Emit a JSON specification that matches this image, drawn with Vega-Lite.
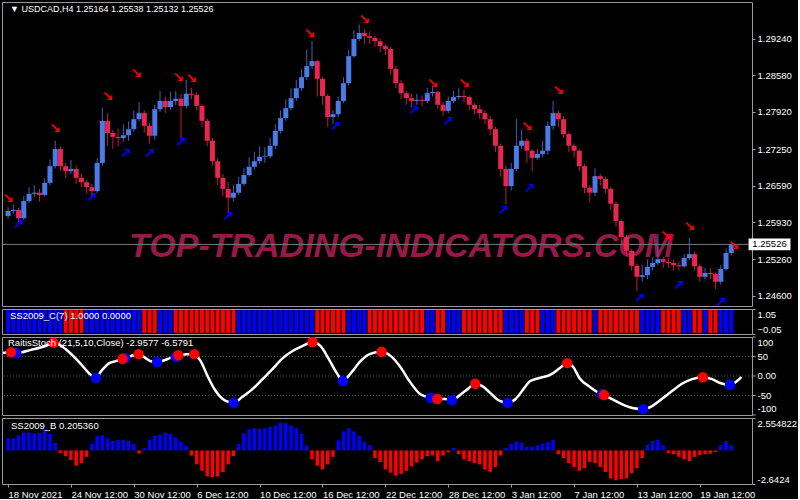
{
"$schema":"https://vega.github.io/schema/vega-lite/v6.json",
"background":"#000000",
"padding":{"left":1,"top":1,"right":0,"bottom":0},
"spacing":3,
"bounds":"flush",
"datasets":{
"bars":[
{"t":0,"o":1.2604,"h":1.262,"l":1.2599,"c":1.2613,"b":0.96,"s":1},
{"t":2,"o":1.2613,"h":1.2625,"l":1.2608,"c":1.2615,"b":0.96,"s":1},
{"t":4,"o":1.2615,"h":1.2619,"l":1.2593,"c":1.26,"b":1.2,"s":1},
{"t":6,"o":1.26,"h":1.264,"l":1.2597,"c":1.2631,"b":1.42,"s":1},
{"t":8,"o":1.2631,"h":1.2656,"l":1.2628,"c":1.2644,"b":1.42,"s":1},
{"t":10,"o":1.2644,"h":1.266,"l":1.2638,"c":1.2646,"b":1.34,"s":1},
{"t":12,"o":1.2646,"h":1.2653,"l":1.263,"c":1.2642,"b":1.38,"s":1},
{"t":14,"o":1.2642,"h":1.2672,"l":1.2639,"c":1.2664,"b":1.7,"s":1},
{"t":16,"o":1.2664,"h":1.2706,"l":1.266,"c":1.2694,"b":1.3,"s":1},
{"t":18,"o":1.2694,"h":1.274,"l":1.269,"c":1.2725,"b":0.6,"s":1},
{"t":20,"o":1.2725,"h":1.273,"l":1.2685,"c":1.2694,"b":-0.2,"s":1},
{"t":22,"o":1.2694,"h":1.27,"l":1.2672,"c":1.2685,"b":-0.46,"s":0},
{"t":24,"o":1.2685,"h":1.2705,"l":1.268,"c":1.2689,"b":-0.75,"s":0},
{"t":26,"o":1.2689,"h":1.2695,"l":1.2662,"c":1.2673,"b":-1.2,"s":0},
{"t":28,"o":1.2673,"h":1.268,"l":1.2656,"c":1.2665,"b":-1.0,"s":0},
{"t":30,"o":1.2665,"h":1.267,"l":1.2645,"c":1.2656,"b":-0.5,"s":1},
{"t":32,"o":1.2656,"h":1.2662,"l":1.264,"c":1.2649,"b":0.5,"s":1},
{"t":34,"o":1.2649,"h":1.2708,"l":1.2646,"c":1.27,"b":1.15,"s":1},
{"t":36,"o":1.27,"h":1.28,"l":1.2695,"c":1.2776,"b":1.2,"s":1},
{"t":38,"o":1.2776,"h":1.279,"l":1.273,"c":1.2754,"b":0.95,"s":1},
{"t":40,"o":1.2754,"h":1.276,"l":1.2725,"c":1.2747,"b":0.75,"s":1},
{"t":42,"o":1.2747,"h":1.2762,"l":1.273,"c":1.2745,"b":0.83,"s":1},
{"t":44,"o":1.2745,"h":1.277,"l":1.2738,"c":1.275,"b":0.85,"s":1},
{"t":46,"o":1.275,"h":1.2775,"l":1.274,"c":1.2761,"b":0.75,"s":1},
{"t":48,"o":1.2761,"h":1.2795,"l":1.2756,"c":1.2779,"b":0.5,"s":1},
{"t":50,"o":1.2779,"h":1.281,"l":1.2775,"c":1.279,"b":-0.25,"s":1},
{"t":52,"o":1.279,"h":1.2795,"l":1.2755,"c":1.2767,"b":0.2,"s":0},
{"t":54,"o":1.2767,"h":1.2772,"l":1.2735,"c":1.2749,"b":0.85,"s":0},
{"t":56,"o":1.2749,"h":1.2805,"l":1.2742,"c":1.2797,"b":1.15,"s":0},
{"t":58,"o":1.2797,"h":1.283,"l":1.2792,"c":1.2812,"b":1.25,"s":1},
{"t":60,"o":1.2812,"h":1.282,"l":1.279,"c":1.2801,"b":1.4,"s":1},
{"t":62,"o":1.2801,"h":1.2828,"l":1.2795,"c":1.2812,"b":1.3,"s":1},
{"t":64,"o":1.2812,"h":1.283,"l":1.2805,"c":1.2816,"b":1.0,"s":0},
{"t":66,"o":1.2816,"h":1.2825,"l":1.2745,"c":1.2803,"b":0.7,"s":0},
{"t":68,"o":1.2803,"h":1.285,"l":1.2798,"c":1.2825,"b":0.35,"s":0},
{"t":70,"o":1.2825,"h":1.2835,"l":1.2815,"c":1.2823,"b":-0.4,"s":0},
{"t":72,"o":1.2823,"h":1.2828,"l":1.2795,"c":1.2803,"b":-1.1,"s":0},
{"t":74,"o":1.2803,"h":1.2806,"l":1.2765,"c":1.2776,"b":-1.6,"s":0},
{"t":76,"o":1.2776,"h":1.278,"l":1.273,"c":1.274,"b":-2.05,"s":0},
{"t":78,"o":1.274,"h":1.2745,"l":1.2695,"c":1.2703,"b":-2.1,"s":0},
{"t":80,"o":1.2703,"h":1.2708,"l":1.266,"c":1.2673,"b":-2.05,"s":0},
{"t":82,"o":1.2673,"h":1.268,"l":1.264,"c":1.2653,"b":-1.7,"s":0},
{"t":84,"o":1.2653,"h":1.2665,"l":1.261,"c":1.2637,"b":-1.1,"s":0},
{"t":86,"o":1.2637,"h":1.266,"l":1.263,"c":1.2646,"b":-0.45,"s":0},
{"t":88,"o":1.2646,"h":1.2675,"l":1.2642,"c":1.2662,"b":0.5,"s":1},
{"t":90,"o":1.2662,"h":1.269,"l":1.2658,"c":1.2678,"b":1.35,"s":1},
{"t":92,"o":1.2678,"h":1.271,"l":1.2675,"c":1.2693,"b":1.65,"s":1},
{"t":94,"o":1.2693,"h":1.272,"l":1.2688,"c":1.2703,"b":1.75,"s":1},
{"t":96,"o":1.2703,"h":1.273,"l":1.2698,"c":1.2711,"b":1.7,"s":1},
{"t":98,"o":1.2711,"h":1.2728,"l":1.27,"c":1.2712,"b":1.75,"s":1},
{"t":100,"o":1.2712,"h":1.2745,"l":1.2708,"c":1.2731,"b":1.85,"s":1},
{"t":102,"o":1.2731,"h":1.277,"l":1.2725,"c":1.2758,"b":1.95,"s":1},
{"t":104,"o":1.2758,"h":1.2795,"l":1.2753,"c":1.2781,"b":2.2,"s":1},
{"t":106,"o":1.2781,"h":1.2815,"l":1.2776,"c":1.2799,"b":2.15,"s":1},
{"t":108,"o":1.2799,"h":1.2835,"l":1.2795,"c":1.2817,"b":1.95,"s":1},
{"t":110,"o":1.2817,"h":1.285,"l":1.2812,"c":1.2835,"b":1.75,"s":1},
{"t":112,"o":1.2835,"h":1.287,"l":1.283,"c":1.2855,"b":1.3,"s":1},
{"t":114,"o":1.2855,"h":1.2905,"l":1.285,"c":1.2875,"b":0.4,"s":1},
{"t":116,"o":1.2875,"h":1.292,"l":1.287,"c":1.2884,"b":-0.7,"s":1},
{"t":118,"o":1.2884,"h":1.2886,"l":1.282,"c":1.2852,"b":-1.2,"s":0},
{"t":120,"o":1.2852,"h":1.2855,"l":1.2805,"c":1.2821,"b":-1.5,"s":0},
{"t":122,"o":1.2821,"h":1.2825,"l":1.2765,"c":1.2783,"b":-1.1,"s":0},
{"t":124,"o":1.2783,"h":1.2795,"l":1.277,"c":1.2788,"b":-0.5,"s":0},
{"t":126,"o":1.2788,"h":1.282,"l":1.2783,"c":1.2812,"b":0.8,"s":0},
{"t":128,"o":1.2812,"h":1.2855,"l":1.2808,"c":1.2844,"b":1.5,"s":0},
{"t":130,"o":1.2844,"h":1.2905,"l":1.284,"c":1.2893,"b":1.75,"s":1},
{"t":132,"o":1.2893,"h":1.294,"l":1.289,"c":1.2924,"b":1.5,"s":1},
{"t":134,"o":1.2924,"h":1.295,"l":1.292,"c":1.2935,"b":1.15,"s":1},
{"t":136,"o":1.2935,"h":1.2942,"l":1.2915,"c":1.2929,"b":0.7,"s":1},
{"t":138,"o":1.2929,"h":1.2938,"l":1.2915,"c":1.2926,"b":0.4,"s":0},
{"t":140,"o":1.2926,"h":1.293,"l":1.291,"c":1.292,"b":-0.6,"s":0},
{"t":142,"o":1.292,"h":1.2925,"l":1.29,"c":1.2911,"b":-0.9,"s":0},
{"t":144,"o":1.2911,"h":1.2915,"l":1.2895,"c":1.2906,"b":-1.5,"s":0},
{"t":146,"o":1.2906,"h":1.291,"l":1.286,"c":1.287,"b":-1.75,"s":0},
{"t":148,"o":1.287,"h":1.2875,"l":1.2835,"c":1.2844,"b":-2.0,"s":0},
{"t":150,"o":1.2844,"h":1.285,"l":1.2815,"c":1.2826,"b":-1.85,"s":0},
{"t":152,"o":1.2826,"h":1.283,"l":1.2805,"c":1.2817,"b":-1.6,"s":0},
{"t":154,"o":1.2817,"h":1.2825,"l":1.28,"c":1.2812,"b":-1.25,"s":0},
{"t":156,"o":1.2812,"h":1.2825,"l":1.2805,"c":1.2814,"b":-0.95,"s":0},
{"t":158,"o":1.2814,"h":1.2822,"l":1.2803,"c":1.2812,"b":-0.7,"s":0},
{"t":160,"o":1.2812,"h":1.2835,"l":1.2808,"c":1.2826,"b":-0.45,"s":1},
{"t":162,"o":1.2826,"h":1.284,"l":1.282,"c":1.2828,"b":-0.4,"s":1},
{"t":164,"o":1.2828,"h":1.283,"l":1.2798,"c":1.2805,"b":-0.85,"s":0},
{"t":166,"o":1.2805,"h":1.281,"l":1.2785,"c":1.2794,"b":-0.4,"s":0},
{"t":168,"o":1.2794,"h":1.282,"l":1.279,"c":1.2812,"b":-0.15,"s":1},
{"t":170,"o":1.2812,"h":1.283,"l":1.2808,"c":1.2819,"b":0.2,"s":1},
{"t":172,"o":1.2819,"h":1.2835,"l":1.2815,"c":1.2821,"b":-0.3,"s":1},
{"t":174,"o":1.2821,"h":1.2832,"l":1.281,"c":1.2819,"b":-0.7,"s":0},
{"t":176,"o":1.2819,"h":1.2822,"l":1.2795,"c":1.2805,"b":-0.85,"s":0},
{"t":178,"o":1.2805,"h":1.2808,"l":1.2788,"c":1.2797,"b":-1.0,"s":0},
{"t":180,"o":1.2797,"h":1.2805,"l":1.278,"c":1.279,"b":-1.1,"s":0},
{"t":182,"o":1.279,"h":1.2795,"l":1.277,"c":1.2779,"b":-1.5,"s":0},
{"t":184,"o":1.2779,"h":1.2785,"l":1.275,"c":1.2761,"b":-1.68,"s":0},
{"t":186,"o":1.2761,"h":1.2765,"l":1.272,"c":1.2731,"b":-1.3,"s":0},
{"t":188,"o":1.2731,"h":1.2735,"l":1.2675,"c":1.2689,"b":-0.4,"s":0},
{"t":190,"o":1.2689,"h":1.2695,"l":1.2625,"c":1.2658,"b":0.2,"s":1},
{"t":192,"o":1.2658,"h":1.27,"l":1.265,"c":1.2689,"b":0.5,"s":1},
{"t":194,"o":1.2689,"h":1.278,"l":1.2685,"c":1.2731,"b":0.7,"s":1},
{"t":196,"o":1.2731,"h":1.276,"l":1.2725,"c":1.274,"b":0.6,"s":1},
{"t":198,"o":1.274,"h":1.2745,"l":1.27,"c":1.2722,"b":0.3,"s":0},
{"t":200,"o":1.2722,"h":1.2725,"l":1.2685,"c":1.2709,"b":0.3,"s":0},
{"t":202,"o":1.2709,"h":1.2725,"l":1.2705,"c":1.2716,"b":0.4,"s":0},
{"t":204,"o":1.2716,"h":1.274,"l":1.271,"c":1.2722,"b":0.55,"s":1},
{"t":206,"o":1.2722,"h":1.2775,"l":1.2715,"c":1.2767,"b":0.65,"s":1},
{"t":208,"o":1.2767,"h":1.2812,"l":1.276,"c":1.279,"b":0.83,"s":1},
{"t":210,"o":1.279,"h":1.2795,"l":1.2765,"c":1.2779,"b":-0.3,"s":0},
{"t":212,"o":1.2779,"h":1.2785,"l":1.2745,"c":1.2752,"b":-0.6,"s":0},
{"t":214,"o":1.2752,"h":1.2755,"l":1.272,"c":1.2731,"b":-1.0,"s":0},
{"t":216,"o":1.2731,"h":1.2735,"l":1.271,"c":1.2722,"b":-1.3,"s":0},
{"t":218,"o":1.2722,"h":1.2725,"l":1.2685,"c":1.2694,"b":-1.6,"s":0},
{"t":220,"o":1.2694,"h":1.2698,"l":1.2645,"c":1.2655,"b":-1.4,"s":0},
{"t":222,"o":1.2655,"h":1.266,"l":1.263,"c":1.2646,"b":-0.9,"s":0},
{"t":224,"o":1.2646,"h":1.269,"l":1.264,"c":1.2676,"b":-1.0,"s":1},
{"t":226,"o":1.2676,"h":1.268,"l":1.266,"c":1.2671,"b":-1.3,"s":0},
{"t":228,"o":1.2671,"h":1.2675,"l":1.2645,"c":1.2653,"b":-1.7,"s":0},
{"t":230,"o":1.2653,"h":1.2656,"l":1.2615,"c":1.2626,"b":-2.2,"s":0},
{"t":232,"o":1.2626,"h":1.263,"l":1.2585,"c":1.2595,"b":-2.35,"s":0},
{"t":234,"o":1.2595,"h":1.2598,"l":1.2555,"c":1.2566,"b":-2.25,"s":0},
{"t":236,"o":1.2566,"h":1.257,"l":1.253,"c":1.2541,"b":-2.2,"s":0},
{"t":238,"o":1.2541,"h":1.2545,"l":1.2505,"c":1.2514,"b":-1.8,"s":0},
{"t":240,"o":1.2514,"h":1.2518,"l":1.2468,"c":1.2494,"b":-1.4,"s":0},
{"t":242,"o":1.2494,"h":1.2515,"l":1.2485,"c":1.2497,"b":-0.6,"s":1},
{"t":244,"o":1.2497,"h":1.2525,"l":1.249,"c":1.2512,"b":0.45,"s":1},
{"t":246,"o":1.2512,"h":1.253,"l":1.2505,"c":1.2519,"b":0.75,"s":1},
{"t":248,"o":1.2519,"h":1.2571,"l":1.2515,"c":1.2526,"b":0.85,"s":1},
{"t":250,"o":1.2526,"h":1.253,"l":1.251,"c":1.2521,"b":0.4,"s":0},
{"t":252,"o":1.2521,"h":1.2528,"l":1.251,"c":1.2519,"b":-0.2,"s":0},
{"t":254,"o":1.2519,"h":1.2525,"l":1.2505,"c":1.2515,"b":-0.3,"s":0},
{"t":256,"o":1.2515,"h":1.2522,"l":1.2505,"c":1.2513,"b":-0.5,"s":0},
{"t":258,"o":1.2513,"h":1.2535,"l":1.251,"c":1.2528,"b":-0.7,"s":1},
{"t":260,"o":1.2528,"h":1.2564,"l":1.2525,"c":1.2535,"b":-0.85,"s":1},
{"t":262,"o":1.2535,"h":1.254,"l":1.2505,"c":1.2513,"b":-0.5,"s":0},
{"t":264,"o":1.2513,"h":1.2518,"l":1.2485,"c":1.2494,"b":-0.35,"s":0},
{"t":266,"o":1.2494,"h":1.251,"l":1.249,"c":1.2501,"b":-0.3,"s":1},
{"t":268,"o":1.2501,"h":1.251,"l":1.249,"c":1.2499,"b":-0.25,"s":0},
{"t":270,"o":1.2499,"h":1.2502,"l":1.2472,"c":1.2485,"b":-0.12,"s":0},
{"t":272,"o":1.2485,"h":1.2515,"l":1.248,"c":1.2508,"b":0.44,"s":1},
{"t":274,"o":1.2508,"h":1.2545,"l":1.2505,"c":1.2537,"b":0.75,"s":1},
{"t":276,"o":1.2537,"h":1.25538,"l":1.2532,"c":1.25526,"b":0.4,"s":1}
],
"osc":[
{"t":0,"v":59},{"t":3,"v":61.5},{"t":5,"v":59},{"t":10.5,"v":67},{"t":16,"v":77},{"t":19,"v":85},{"t":22,"v":77},{"t":24.4,"v":64},{"t":29,"v":33},{"t":33,"v":3},{"t":35,"v":-5},{"t":37,"v":13},{"t":40,"v":33},{"t":42.5,"v":38},{"t":45,"v":44},{"t":48,"v":51},{"t":51,"v":56},{"t":53,"v":49},{"t":55.6,"v":38},{"t":58,"v":36},{"t":61,"v":41},{"t":64,"v":49},{"t":66,"v":51},{"t":69,"v":56},{"t":72,"v":56},{"t":74.4,"v":38},{"t":77,"v":0},{"t":80,"v":-38},{"t":83.8,"v":-64},{"t":86.8,"v":-69},{"t":90,"v":-54},{"t":94,"v":-33},{"t":97.7,"v":-8},{"t":101.5,"v":18},{"t":105,"v":44},{"t":109,"v":64},{"t":112.8,"v":77},{"t":116.5,"v":87},{"t":119.5,"v":77},{"t":122.6,"v":44},{"t":125.6,"v":8},{"t":128,"v":-13},{"t":131,"v":8},{"t":134.6,"v":38},{"t":138,"v":56},{"t":142.5,"v":62},{"t":146,"v":51},{"t":149.6,"v":23},{"t":153,"v":-13},{"t":157,"v":-46},{"t":161,"v":-56},{"t":163.5,"v":-59},{"t":166.5,"v":-59},{"t":169,"v":-62},{"t":172,"v":-49},{"t":175,"v":-33},{"t":177.8,"v":-20},{"t":180.5,"v":-26},{"t":183.5,"v":-44},{"t":187,"v":-64},{"t":190,"v":-69},{"t":193,"v":-59},{"t":196,"v":-33},{"t":198.5,"v":-13},{"t":202,"v":-5},{"t":206,"v":3},{"t":209.8,"v":21},{"t":212.4,"v":33},{"t":214.7,"v":23},{"t":217,"v":-5},{"t":221,"v":-28},{"t":223.7,"v":-41},{"t":226.3,"v":-49},{"t":229.3,"v":-59},{"t":233,"v":-72},{"t":237,"v":-82},{"t":241,"v":-85},{"t":244.4,"v":-77},{"t":248,"v":-59},{"t":252,"v":-38},{"t":255.6,"v":-20},{"t":259.4,"v":-8},{"t":263.5,"v":-3},{"t":267,"v":-8},{"t":270,"v":-18},{"t":273.7,"v":-23},{"t":276,"v":-15},{"t":278,"v":-3}
],
"dots":[
{"t":5,"v":59,"k":"up"},{"t":35,"v":-5,"k":"up"},{"t":46,"v":46,"k":"up"},{"t":58,"v":36,"k":"up"},{"t":65,"v":49,"k":"up"},{"t":86.8,"v":-69,"k":"up"},{"t":128,"v":-13,"k":"up"},{"t":161,"v":-56,"k":"up"},{"t":169,"v":-62,"k":"up"},{"t":190,"v":-69,"k":"up"},{"t":225.5,"v":-46,"k":"up"},{"t":241,"v":-85,"k":"up"},{"t":273.7,"v":-23,"k":"up"},
{"t":3,"v":61,"k":"dn"},{"t":19,"v":85,"k":"dn"},{"t":45,"v":44,"k":"dn"},{"t":51,"v":56,"k":"dn"},{"t":66,"v":53,"k":"dn"},{"t":72,"v":56,"k":"dn"},{"t":116.5,"v":87,"k":"dn"},{"t":142.5,"v":62,"k":"dn"},{"t":163.5,"v":-59,"k":"dn"},{"t":177.8,"v":-20,"k":"dn"},{"t":212.4,"v":33,"k":"dn"},{"t":226.3,"v":-49,"k":"dn"},{"t":263.5,"v":-3,"k":"dn"}
],
"levels":[{"lv":100,"lb":"100"},{"lv":50,"lb":"50"},{"lv":0,"lb":"0.00"},{"lv":-50,"lb":"-50"},{"lv":-100,"lb":"-100"}],
"arrows":[
{"t":0,"p":1.26347,"k":"dn"},{"t":18,"p":1.27613,"k":"dn"},{"t":38,"p":1.28191,"k":"dn"},{"t":49,"p":1.28607,"k":"dn"},{"t":65,"p":1.28535,"k":"dn"},{"t":70,"p":1.28517,"k":"dn"},{"t":115,"p":1.2933,"k":"dn"},{"t":136,"p":1.29583,"k":"dn"},{"t":162,"p":1.28426,"k":"dn"},{"t":174,"p":1.28426,"k":"dn"},{"t":198,"p":1.27649,"k":"dn"},{"t":210,"p":1.283,"k":"dn"},{"t":251,"p":1.25678,"k":"dn"},{"t":260,"p":1.25841,"k":"dn"},{"t":277,"p":1.25497,"k":"dn"},
{"t":4,"p":1.25877,"k":"up"},{"t":32,"p":1.26365,"k":"up"},{"t":45,"p":1.2716,"k":"up"},{"t":54,"p":1.2716,"k":"up"},{"t":66,"p":1.27359,"k":"up"},{"t":84,"p":1.26021,"k":"up"},{"t":125,"p":1.27649,"k":"up"},{"t":155,"p":1.27938,"k":"up"},{"t":168,"p":1.27739,"k":"up"},{"t":189,"p":1.2613,"k":"up"},{"t":199,"p":1.26528,"k":"up"},{"t":241,"p":1.24539,"k":"up"},{"t":256,"p":1.24774,"k":"up"},{"t":272,"p":1.24466,"k":"up"}
]
},
"vconcat":[
{
"width":750,"height":304,
"layer":[
{"data":{"values":[{"w":"TOP-TRADING-INDICATORS.COM"}]},
 "mark":{"type":"text","font":"Liberation Sans Narrow, Liberation Sans","fontSize":34,"fontWeight":"bold","fontStyle":"italic","color":"#961a48","align":"center","baseline":"middle"},
 "encoding":{"x":{"datum":150,"type":"quantitative","scale":{"domain":[-0.4,282],"nice":false,"zero":false},"axis":null},
  "y":{"datum":1.2547,"type":"quantitative","scale":{"domain":[1.24412,1.29909],"nice":false,"zero":false},"axis":{"orient":"right","values":[1.2924,1.2858,1.2792,1.2725,1.2659,1.2593,1.2526,1.246],"format":".5f","title":null}},
  "text":{"field":"w"}}},
{"data":{"values":[{"p":1.25526}]},
 "mark":{"type":"rule","color":"#7a7a7a","strokeWidth":1},
 "encoding":{"y":{"field":"p","type":"quantitative","title":null}}},
{"data":{"name":"bars"},
 "mark":{"type":"rule","strokeWidth":1,"clip":true,"opacity":0.8},
 "encoding":{"x":{"field":"t","type":"quantitative","axis":null,"title":null},
  "y":{"field":"l","type":"quantitative","title":null},"y2":{"field":"h"},
  "color":{"condition":{"test":"datum.c >= datum.o","value":"#4a7be6"},"value":"#e8264f"}}},
{"data":{"name":"bars"},
 "mark":{"type":"bar","size":5,"clip":true},
 "encoding":{"x":{"field":"t","type":"quantitative","axis":null,"title":null},
  "y":{"field":"o","type":"quantitative","title":null},"y2":{"field":"c"},
  "color":{"condition":{"test":"datum.c >= datum.o","value":"#4a7be6"},"value":"#e8264f"}}},
{"data":{"name":"arrows"},
 "mark":{"type":"text","font":"DejaVu Sans","fontSize":14,"fontWeight":"bold","align":"center","baseline":"middle","clip":true},
 "encoding":{"x":{"field":"t","type":"quantitative","axis":null,"title":null},
  "y":{"field":"p","type":"quantitative","title":null},
  "text":{"condition":{"test":"datum.k == 'dn'","value":"↘"},"value":"↗"},
  "color":{"condition":{"test":"datum.k == 'dn'","value":"#ff0000"},"value":"#0000ff"}}},
{"data":{"values":[{"w":"▼ USDCAD,H4  1.25164 1.25538 1.25132 1.25526"}]},
 "mark":{"type":"text","align":"left","baseline":"top","dx":3,"dy":3,"color":"#ffffff","fontSize":9},
 "encoding":{"x":{"datum":-0.4,"type":"quantitative"},"y":{"datum":1.29909,"type":"quantitative"},"text":{"field":"w"}}},
{"data":{"values":[{"p":1.25526}]},
 "mark":{"type":"rect","color":"#ffffff","clip":false},
 "encoding":{"x":{"datum":282.6,"type":"quantitative"},"x2":{"datum":298.6},"y":{"datum":1.25418,"type":"quantitative"},"y2":{"datum":1.25634}}},
{"data":{"values":[{"p":1.25526,"w":"1.25526"}]},
 "mark":{"type":"text","color":"#000000","align":"center","baseline":"middle","clip":false},
 "encoding":{"x":{"datum":290.6,"type":"quantitative"},"y":{"field":"p","type":"quantitative","title":null},"text":{"field":"w"}}}
]
},
{
"width":750,"height":25,
"layer":[
{"data":{"name":"bars"},
 "mark":{"type":"bar","size":4,"clip":true},
 "encoding":{"x":{"field":"t","type":"quantitative","scale":{"domain":[-0.4,282],"nice":false,"zero":false},"axis":null},
  "y":{"datum":1,"type":"quantitative","scale":{"domain":[-0.05,1.05],"nice":false,"zero":false},"axis":{"orient":"right","values":[1.05,-0.05],"format":".2f","labelFlush":true,"title":null}},
  "y2":{"datum":0},
  "color":{"condition":{"test":"datum.s == 1","value":"#0000ff"},"value":"#ff0000"}}},
{"data":{"values":[{"w":"SS2009_C(7) 1.0000 0.0000"}]},
 "mark":{"type":"text","align":"left","baseline":"top","dx":3,"dy":2,"color":"#ffffff"},
 "encoding":{"x":{"datum":-0.4,"type":"quantitative"},"y":{"datum":1.05,"type":"quantitative"},"text":{"field":"w"}}}
]
},
{
"width":750,"height":78,
"layer":[
{"data":{"name":"levels"},
 "transform":[{"filter":"abs(datum.lv) < 100"}],
 "mark":{"type":"rule","color":"#3e5a5a","strokeDash":[1,2],"strokeWidth":1},
 "encoding":{"y":{"field":"lv","type":"quantitative","scale":{"domain":[-100,100],"nice":false,"zero":false},"axis":null}}},
{"data":{"name":"osc"},
 "mark":{"type":"line","color":"#ffffff","strokeWidth":2.5,"interpolate":"monotone","clip":true},
 "encoding":{"x":{"field":"t","type":"quantitative","scale":{"domain":[-0.4,282],"nice":false,"zero":false},"axis":null},
  "y":{"field":"v","type":"quantitative","axis":null}}},
{"data":{"name":"dots"},
 "mark":{"type":"circle","size":110,"opacity":1},
 "encoding":{"x":{"field":"t","type":"quantitative","axis":null},"y":{"field":"v","type":"quantitative","axis":null},
  "color":{"condition":{"test":"datum.k == 'dn'","value":"#ff0000"},"value":"#0000ff"}}},
{"data":{"name":"levels"},
 "mark":{"type":"rule","color":"#a0a0a0","clip":false},
 "encoding":{"x":{"datum":282.2,"type":"quantitative"},"x2":{"datum":283.4},"y":{"field":"lv","type":"quantitative","axis":null}}},
{"data":{"name":"levels"},
 "transform":[{"filter":"abs(datum.lv) < 100"}],
 "mark":{"type":"text","align":"left","baseline":"middle","dx":5,"color":"#ffffff","clip":false},
 "encoding":{"x":{"datum":282.2,"type":"quantitative"},"y":{"field":"lv","type":"quantitative","axis":null},"text":{"field":"lb"}}},
{"data":{"name":"levels"},
 "transform":[{"filter":"datum.lv == 100"}],
 "mark":{"type":"text","align":"left","baseline":"top","dx":5,"dy":1,"color":"#ffffff","clip":false},
 "encoding":{"x":{"datum":282.2,"type":"quantitative"},"y":{"field":"lv","type":"quantitative","axis":null},"text":{"field":"lb"}}},
{"data":{"name":"levels"},
 "transform":[{"filter":"datum.lv == -100"}],
 "mark":{"type":"text","align":"left","baseline":"bottom","dx":5,"dy":-1,"color":"#ffffff","clip":false},
 "encoding":{"x":{"datum":282.2,"type":"quantitative"},"y":{"field":"lv","type":"quantitative","axis":null},"text":{"field":"lb"}}},
{"data":{"values":[{"w":"RaitisStoch (21,5,10,Close) -2.9577 -6.5791"}]},
 "mark":{"type":"text","align":"left","baseline":"top","dx":6,"dy":1,"color":"#ffffff"},
 "encoding":{"x":{"datum":-0.4,"type":"quantitative"},"y":{"datum":100,"type":"quantitative","axis":null},"text":{"field":"w"}}}
]
},
{
"width":750,"height":66,
"layer":[
{"data":{"name":"bars"},
 "mark":{"type":"bar","size":3.5,"clip":true},
 "encoding":{"x":{"field":"t","type":"quantitative","scale":{"domain":[-0.4,282],"nice":false,"zero":false},
   "axis":{"orient":"bottom","values":[0,24,48,72,96,120,144,168,192,216,240,264],"labelExpr":"['18 Nov 2021','24 Nov 12:00','30 Nov 12:00','6 Dec 12:00','10 Dec 12:00','16 Dec 12:00','22 Dec 12:00','28 Dec 12:00','3 Jan 12:00','7 Jan 12:00','13 Jan 12:00','19 Jan 12:00'][round(datum.value/24)]","labelAlign":"left","labelOverlap":false,"labelFlush":false,"title":null}},
  "y":{"field":"b","type":"quantitative","scale":{"domain":[-2.6424,2.554822],"nice":false},
   "axis":{"orient":"right","values":[2.554822,0,-2.6424],"labelExpr":"datum.value == 0 ? '0.00' : (datum.value > 0 ? '2.554822' : '-2.6424')","labelFlush":true,"title":null}},
  "color":{"condition":{"test":"datum.b >= 0","value":"#0000ff"},"value":"#ff0000"}}},
{"data":{"values":[{"w":"SS2009_B 0.205360"}]},
 "mark":{"type":"text","align":"left","baseline":"top","dx":4,"dy":3,"color":"#ffffff"},
 "encoding":{"x":{"datum":-0.4,"type":"quantitative"},"y":{"datum":2.554822,"type":"quantitative"},"text":{"field":"w"}}}
]
}
],
"config":{
"background":"#000000",
"view":{"stroke":"#9a9a9a","strokeWidth":1,"fill":"#000000"},
"axis":{"labelColor":"#ffffff","labelFont":"Liberation Sans","labelFontSize":9.5,"tickColor":"#a0a0a0","tickSize":3,"domain":false,"grid":false,"labelPadding":2,"labelOverlap":false,"titleColor":"#ffffff"},
"text":{"font":"Liberation Sans","fontSize":9.5,"color":"#ffffff"}
}
}
